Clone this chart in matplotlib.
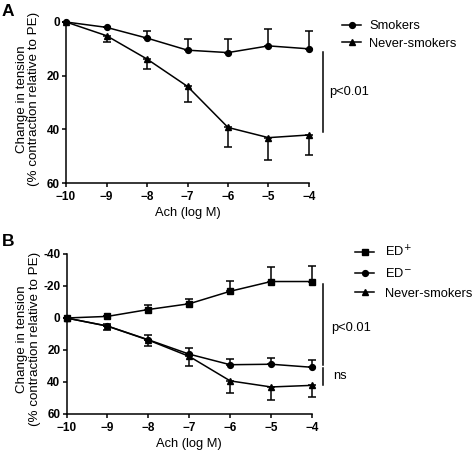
import numpy as np
import matplotlib
matplotlib.use("Agg")
import matplotlib.pyplot as plt
from matplotlib.lines import Line2D

plt.rcParams['font.family'] = ['Liberation Sans', 'DejaVu Sans']

## concentrations (log M)
ach = [-10, -9, -8, -7, -6, -5, -4]

## panel A
smokers = [0, 2.0, 6.0, 10.5, 11.4, 8.9, 10.0]
smokers_sem = [0, 0, 2.7, 4.0, 5.2, 6.2, 6.6]
never = [0, 5.1, 13.8, 24.0, 39.3, 43.1, 42.1]
never_sem = [0, 2.4, 3.6, 5.7, 7.4, 8.3, 7.5]

## panel B
ed_pos = [0, -1.0, -5.3, -8.9, -16.7, -22.8, -22.8]
ed_pos_sem = [0, 0, 2.6, 2.8, 6.2, 8.9, 9.9]
ed_neg = [0, 5.0, 13.6, 22.6, 29.2, 28.9, 30.8]
ed_neg_sem = [0, 1.5, 3.0, 4.0, 3.7, 4.1, 4.3]

xticks = [-10, -9, -8, -7, -6, -5, -4]

fig = plt.figure(figsize=(4.72, 4.54), dpi=100)
axA = fig.add_axes([66/472, 1-183/454, 243/472, 161/454])
axB = fig.add_axes([66.5/472, 1-414/454, 245.5/472, 160/454])

lw = 1.1
ms = 4.2
fs = 9.3


def series(ax, y, sem, marker, up, msize=ms):
    sem = np.array(sem)
    z = np.zeros_like(sem)
    err = [sem, z] if up else [z, sem]
    ax.errorbar(ach, y, yerr=err, color='black', marker=marker, ms=msize,
                lw=lw, elinewidth=lw, capsize=2.6, capthick=lw, clip_on=False)
    return Line2D([], [], color='black', marker=marker, ms=msize, lw=lw)


def style(ax, ylim, yticks):
    ax.set_xlim(-10, -4)
    ax.set_ylim(ylim)
    ax.set_xticks(xticks)
    ax.set_yticks(yticks)
    ax.set_yticklabels([str(t) for t in yticks])
    for s in ['top', 'right']:
        ax.spines[s].set_visible(False)
    for s in ['left', 'bottom']:
        ax.spines[s].set_linewidth(1.1)
    ax.tick_params(direction='out', length=3, width=1.1, labelsize=8.5)
    ax.tick_params(axis='x', pad=3)
    ax.tick_params(axis='y', pad=1.5)
    for t in ax.get_xticklabels() + ax.get_yticklabels():
        t.set_fontweight('bold')
    ax.set_xlabel("Ach (log M)", fontsize=fs, labelpad=3)
    ax.set_ylabel("Change in tension\n(% contraction relative to PE)",
                  fontsize=9.6, linespacing=1.05)


## panel A
hA = [series(axA, smokers, smokers_sem, 'o', up=True),
      series(axA, never, never_sem, '^', up=False)]
style(axA, (60, 0), [0, 20, 40, 60])
axA.yaxis.set_label_coords(-0.105, 0.52)
axA.plot([-3.66, -3.66], [11.2, 41.0], color='black', lw=1.1, clip_on=False)
axA.text(-3.49, 26, "p<0.01", fontsize=fs, va='center', ha='left')
axA.legend(hA, ['Smokers', 'Never-smokers'], loc='upper left',
           bbox_to_anchor=(342/472, 1-20/454),
           bbox_transform=fig.transFigure, frameon=False, fontsize=fs,
           handlelength=1.5, handletextpad=0.6, borderpad=0, borderaxespad=0,
           labelspacing=0.45)

## panel B
hB = [series(axB, ed_pos, ed_pos_sem, 's', up=True),
      series(axB, ed_neg, ed_neg_sem, 'o', up=True),
      series(axB, never, never_sem, '^', up=False)]
style(axB, (60, -40), [-40, -20, 0, 20, 40, 60])
axB.yaxis.set_label_coords(-0.105, 0.47)
axB.plot([-3.72, -3.72], [-21.2, 29.3], color='black', lw=1.1, clip_on=False)
axB.plot([-3.72, -3.72], [31.3, 41.7], color='black', lw=1.1, clip_on=False)
axB.text(-3.53, 6.2, "p<0.01", fontsize=fs, va='center', ha='left')
axB.text(-3.48, 36, "ns", fontsize=fs, va='center', ha='left')
axB.legend(hB, [r'ED$^{+}$', r'ED$^{-}$', 'Never-smokers'], loc='upper left',
           bbox_to_anchor=(355/472, 1-244/454),
           bbox_transform=fig.transFigure, frameon=False, fontsize=fs,
           handlelength=1.5, handletextpad=0.8, borderpad=0, borderaxespad=0,
           labelspacing=0.6)

fig.text(2/472, 1-4/454, "A", fontsize=12.5, fontweight='bold', va='top')
fig.text(2/472, 1-234/454, "B", fontsize=12.5, fontweight='bold', va='top')

fig.savefig("out.png", dpi=100)
